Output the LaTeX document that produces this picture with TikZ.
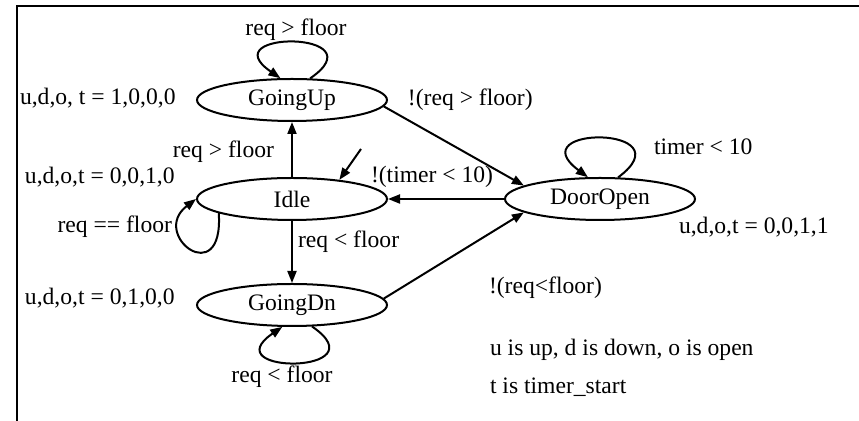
\documentclass[tikz,border=0pt]{standalone}
\usepackage{fontspec}
\setmainfont{Liberation Serif}
\usetikzlibrary{shapes.geometric,arrows.meta}

\begin{document}
\begin{tikzpicture}[x=0.5pt,y=-0.5pt,font=\fontsize{11.8}{14}\selectfont,line width=1pt,
  >={Triangle[length=6pt,width=4.5pt]}]
\tikzstyle{state}=[ellipse,draw,minimum width=95pt,minimum height=21pt,inner sep=0pt]
\tikzstyle{lbl}=[inner sep=0pt]

\useasboundingbox (0,0) rectangle (859,421);
% frame
\draw[line width=1.3pt] (17,421) -- (17,6) -- (859,6);

% states
\node(goup)[state] at (292,100) {GoingUp};
\node(idle)[state] at (292,199) {Idle};
\node(godn)[state] at (292,305) {GoingDn};
\node(door)[state] at (600,199) {DoorOpen};

% outputs of the states
\node(outup)[lbl,anchor=west] at (19,98) {u,d,o, t = 1,0,0,0};
\node(outidle)[lbl,anchor=west] at (24,177) {u,d,o,t = 0,0,1,0};
\node(outdn)[lbl,anchor=west] at (24,298) {u,d,o,t = 0,1,0,0};
\node(outdoor)[lbl,anchor=west] at (678,227) {u,d,o,t = 0,0,1,1};

% transitions
\draw[->] (goup.50) .. controls +(70,-48) and +(-70,-48) .. (goup.118);
\node(lupup)[lbl] at (296,30) {req > floor};
\draw[->] (idle.north) -- (goup.south);
\node(lidleup)[lbl,anchor=east] at (275,152) {req > floor};
\draw[->] (goup.-4) -- (door.170);
\node(lupdoor)[lbl,anchor=west] at (407,100) {!(req > floor)};
\draw[->] (door.50) .. controls +(70,-52) and +(-70,-52) .. (door.119);
\node(ldoordoor)[lbl,anchor=west] at (653,147) {timer < 10};
\draw[->] (door.west) -- (idle.east);
\node(ldooridle)[lbl,anchor=west] at (370,177) {!(timer < 10)};
\draw[->] (idle.191) .. controls +(5,78) and +(-47,36) .. (idle.west);
\node(lidleidle)[lbl,anchor=east] at (173,227) {req == floor};
\draw[->] (idle.south) -- (godn.north);
\node(lidledn)[lbl,anchor=west] at (297,242) {req < floor};
\draw[->] (godn.313) .. controls +(70,48) and +(-70,48) .. (godn.246);
\node(ldndn)[lbl] at (282,377) {req < floor};
\draw[->] (godn.4) -- (door.190);
\node(ldndoor)[lbl,anchor=west] at (488,288) {!(req<floor)};

% start state
\coordinate (init) at (361,149);
\draw[->] (init) -- (idle.22);

% key
\node(key1)[lbl,anchor=west] at (489,350) {u is up, d is down, o is open};
\node(key2)[lbl,anchor=west] at (489,387) {t is timer\_start};
\end{tikzpicture}
\end{document}
